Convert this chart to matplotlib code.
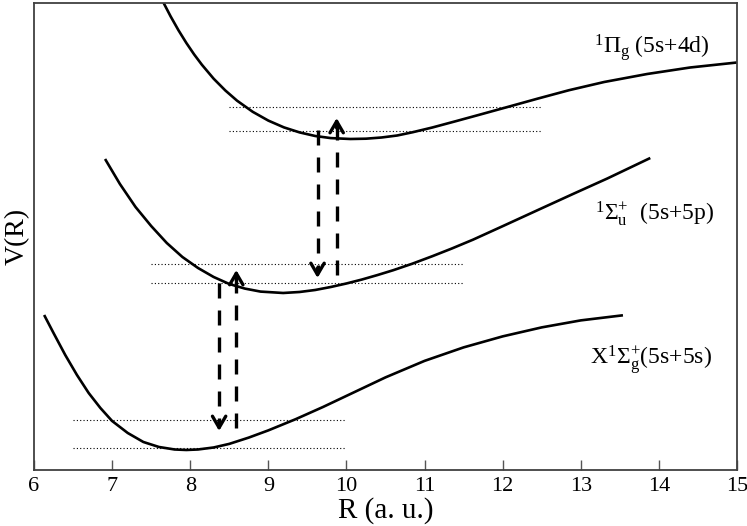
import numpy as np
import matplotlib
matplotlib.use('Agg')
import matplotlib.pyplot as plt

plt.rcParams['font.family'] = ['Liberation Serif', 'DejaVu Serif']
plt.rcParams['mathtext.fontset'] = 'custom'
plt.rcParams['mathtext.rm'] = 'Liberation Serif'
plt.rcParams['mathtext.it'] = 'Liberation Serif:italic'
plt.rcParams['mathtext.bf'] = 'Liberation Serif:bold'

# potential curves (R in a.u., V in arbitrary units)
r_x = [6.13, 6.25, 6.40, 6.55, 6.70, 6.85, 7.00, 7.20, 7.40, 7.60, 7.80, 7.95,
       8.10, 8.30, 8.50, 8.75, 9.00, 9.35, 9.70, 10.10, 10.50, 11.00, 11.50,
       12.00, 12.50, 13.00, 13.54]
v_x = [15.5, 13.7, 11.5, 9.5, 7.7, 6.2, 4.9, 3.7, 2.8, 2.3, 2.05, 2.0,
       2.05, 2.25, 2.61, 3.24, 3.96, 5.08, 6.3, 7.78, 9.26, 10.91, 12.26,
       13.36, 14.26, 14.96, 15.47]

r_su = [6.91, 7.10, 7.30, 7.50, 7.70, 7.90, 8.10, 8.30, 8.50, 8.70, 8.90, 9.19,
        9.40, 9.60, 9.80, 10.00, 10.20, 10.40, 10.60, 10.84, 11.10, 11.35,
        11.62, 12.00, 12.48, 12.90, 13.34, 13.89]
v_su = [31.1, 28.6, 26.3, 24.4, 22.7, 21.3, 20.2, 19.3, 18.6, 18.14, 17.84, 17.7,
        17.8, 18.0, 18.3, 18.65, 19.05, 19.5, 19.98, 20.62, 21.38, 22.15,
        23.03, 24.38, 26.1, 27.6, 29.15, 31.2]

r_pg = [7.55, 7.65, 7.75, 7.85, 7.95, 8.05, 8.15, 8.30, 8.45, 8.60, 8.80, 9.00,
        9.20, 9.40, 9.60, 9.80, 10.05, 10.25, 10.45, 10.65, 10.85, 11.10, 11.40,
        11.70, 12.09, 12.45, 12.85, 13.30, 13.85, 14.40, 15.00]
v_pg = [48.5, 46.85, 45.35, 43.97, 42.71, 41.56, 40.52, 39.13, 37.95, 36.93,
        35.82, 34.94, 34.26, 33.76, 33.4, 33.19, 33.1, 33.13, 33.25, 33.45,
        33.78, 34.25, 34.88, 35.52, 36.36, 37.14, 37.98, 38.8, 39.6, 40.25, 40.75]

# vibrational levels: (R start, R end, V)
lev_x = [(6.5, 10.0, 5.0), (6.5, 10.0, 2.2)]
lev_su = [(7.5, 11.5, 20.6), (7.5, 11.5, 18.7)]
lev_pg = [(8.5, 12.5, 36.25), (8.5, 12.5, 33.85)]

# transitions: (R, V from, V to)
trans = [(8.37, 18.7, 3.9), (8.59, 4.2, 20.0),
         (9.63, 34.0, 19.2), (9.875, 19.5, 35.2)]

labels = [r'${}^{1}\Pi_{\mathrm{g}}$ (5s+4d)',
          r'${}^{1}\Sigma_{\mathrm{u}}^{+}$  (5s+5p)',
          r'X$^{1}\Sigma_{\mathrm{g}}^{+}$(5s+5s)']
label_pos = [(13.17, 41.7), (13.18, 25.0), (13.12, 10.5)]

fig = plt.figure(figsize=(7.47, 5.26), dpi=100)
ax = fig.add_axes([0.0455, 0.1065, 0.9411, 0.8878])

for r, v in [(r_x, v_x), (r_su, v_su), (r_pg, v_pg)]:
    ax.plot(r, v, color='k', lw=1.9, solid_capstyle='butt',
            solid_joinstyle='round')

for a, b, v in lev_x + lev_su + lev_pg:
    ax.plot([a, b], [v, v], color='k', lw=0.8, linestyle=(0, (1, 2)))

for r, v0, v1 in trans:
    s = np.sign(v1 - v0)
    ax.plot([r, r], [v0, v1 - s * 0.6], color='k', lw=2.4,
            linestyle=(0, (4.5, 3.6)), dash_capstyle='butt')
    ax.annotate('', xy=(r, v1), xytext=(r, v1 - s * 1.0),
                arrowprops=dict(arrowstyle='->,head_length=0.55,head_width=0.32',
                                lw=2.4, color='k', shrinkA=0, shrinkB=0,
                                mutation_scale=15))

for t, (x, y) in zip(labels, label_pos):
    ax.text(x, y, t, fontsize=17, ha='left', va='baseline')

ax.set_xlim(6, 15)
ax.set_ylim(0, 46.7)
ax.set_xticks(range(6, 16))
ax.set_yticks([])
ax.tick_params(axis='x', direction='in', length=7, width=1, color='#555555',
               labelsize=16, pad=5)
for sp in ax.spines.values():
    sp.set_color('#404040')
    sp.set_linewidth(1.3)

ax.set_xlabel('R (a. u.)', fontsize=21, labelpad=1)
ax.set_ylabel('V(R)', fontsize=20, labelpad=3)

fig.savefig('out.png', dpi=100)
